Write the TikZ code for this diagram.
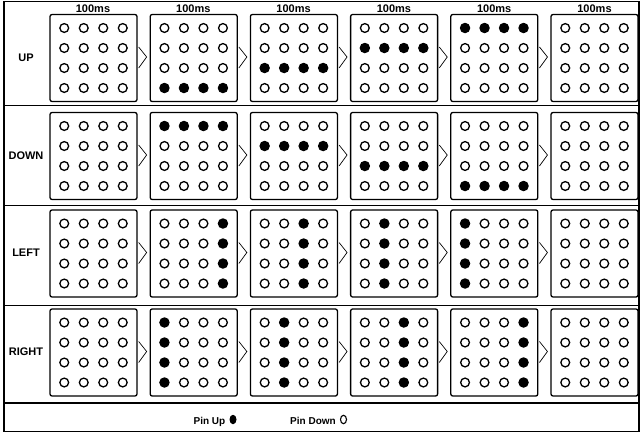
\documentclass[tikz,border=0pt]{standalone}
\usepackage{fontspec}
\setmainfont{Liberation Sans}
\usetikzlibrary{calc,shapes.geometric}

\begin{document}
\begin{tikzpicture}[x=1pt, y=-1pt, line width=1.3pt,
    font=\fontsize{10}{12}\selectfont\bfseries,
    panel/.style={draw, rounded corners=2pt, minimum width=87pt,
      minimum height=87pt, inner sep=0pt},
    pinup/.style={fill, circle, inner sep=0pt, minimum size=10.5pt},
    pindown/.style={draw, circle, inner sep=0pt, minimum size=8.8pt},
    keyup/.style={fill, ellipse, inner sep=0pt, minimum width=7pt, minimum height=9.5pt},
    keydown/.style={draw, ellipse, line width=1.1pt, inner sep=0pt,
      minimum width=6pt, minimum height=8.5pt},
    bigtext/.style={font=\fontsize{11}{13}\selectfont\bfseries},
    chevron/.style={line width=0.7pt}]
  \useasboundingbox (0,0) rectangle (641,434);

  % outer frame and row rules
  \draw[line width=1.5pt] (4,1.5) rectangle (639,431.5);
  \draw (4,105.7) -- (639,105.7);
  \draw (4,205.7) -- (639,205.7);
  \draw (4,305.7) -- (639,305.7);
  \draw[line width=2.4pt] (4,403) -- (639,403);

  % step duration over each column
  \foreach \c in {1,...,6}
    \node[bigtext, anchor=base] (time\c) at ({93+100.3*(\c-1)},12) {100ms};

  % one row per direction: label, six frames, chevrons between them
  \foreach \name/\cy/\mode [count=\r] in {UP/58/1, DOWN/156/2, LEFT/253.5/3, RIGHT/352.5/4} {
    \node[bigtext, anchor=base] (dir\r) at (26,\cy+3) {\name};
    \foreach \c in {1,...,6} {
      \node[panel] (b\r-\c) at ({93.5+100.2*(\c-1)},\cy) {};
      \foreach \i in {1,...,4}
        \foreach \j in {1,...,4} {
          \pgfmathtruncatemacro\lit{(\c>1)*(\c<6)*((\mode==1)*(\j==6-\c)
            + (\mode==2)*(\j==\c-1) + (\mode==3)*(\i==6-\c) + (\mode==4)*(\i==\c-1))}
          \ifnum\lit=1
            \node[pinup] (p\r-\c-\i-\j) at ($(b\r-\c.center)+({19.5*(\i-2.5)},{20*(\j-2.5)})$) {};
          \else
            \node[pindown] (p\r-\c-\i-\j) at ($(b\r-\c.center)+({19.5*(\i-2.5)},{20*(\j-2.5)})$) {};
          \fi
        }
    }
    \foreach \c in {1,...,5}
      \draw[chevron] ($(b\r-\c.east)+(1,-11)$) -- ($(b\r-\c.east)+(9,-1)$)
        -- ($(b\r-\c.east)+(1,10)$);
  }

  % legend
  \node[anchor=base] (upkey) at (209.5,424) {Pin Up};
  \node[keyup] (updot) at (233,419.5) {};
  \node[anchor=base] (downkey) at (313,424) {Pin Down};
  \node[keydown] (downdot) at (343.5,419.5) {};
\end{tikzpicture}
\end{document}
